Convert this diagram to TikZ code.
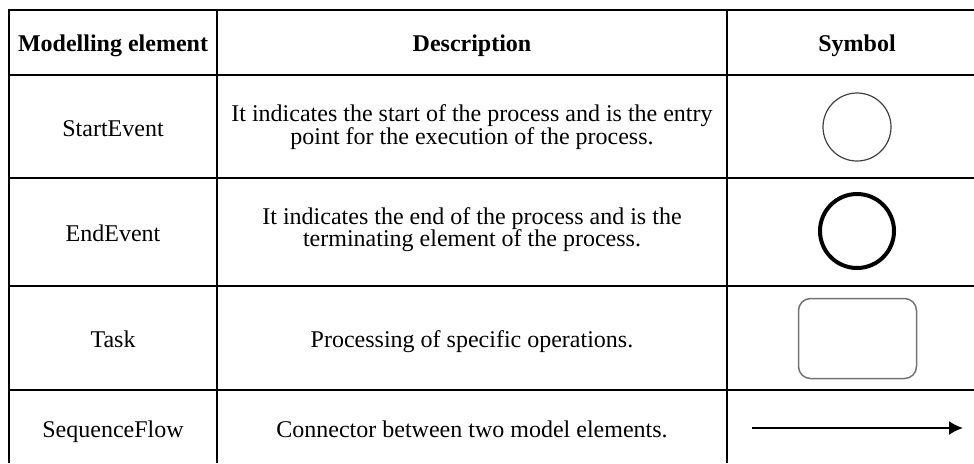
\documentclass[tikz,border=0pt]{standalone}
\usepackage{fontspec}
\setmainfont{Liberation Serif}
\usetikzlibrary{arrows.meta}

\begin{document}
\begin{tikzpicture}[x=0.5pt,y=-0.5pt,line width=1pt,>={Latex[length=7pt,width=7pt]}]
\tikzstyle{every node}=[font=\fontsize{12}{11.2}\selectfont,inner sep=0pt,align=center]
\tikzstyle{txt}=[anchor=base]
\tikzstyle{head}=[txt,font=\fontsize{12}{11.2}\selectfont\bfseries]
\tikzstyle{start}=[circle,draw=black!75,line width=0.6pt,minimum size=34pt]
\tikzstyle{stop}=[circle,draw=black,line width=2pt,minimum size=37pt]
\tikzstyle{task}=[rectangle,rounded corners=6pt,draw=black!55,line width=0.75pt,
                  minimum width=59pt,minimum height=40pt]
\tikzstyle{flow}=[->,line width=1pt]
\useasboundingbox (0,0) rectangle (974,463);

% grid
\draw (974,10) -- (9,10) -- (9,463);
\foreach \y in {75,178,286,390}
  \draw (9,\y) -- (974,\y);
\foreach \x in {217,727}
  \draw (\x,10) -- (\x,463);

% header
\node [head] (h0) at (113,51.7) {Modelling element};
\node [head] (h1) at (472,51.7) {Description};
\node [head] (h2) at (857,51.7) {Symbol};

% rows (two-line cells sit on their last baseline)
\node [txt] (m1) at (113,136) {StartEvent};
\node [txt] (d1) at (472,144) {It indicates the start of the process and is the entry\\point for the execution of the process.};
\node [start] (s1) at (857,127) {};

\node [txt] (m2) at (113,241.5) {EndEvent};
\node [txt] (d2) at (472,246.7) {It indicates the end of the process and is the\\terminating element of the process.};
\node [stop] (s2) [below of=s1,node distance=52pt] {};

\node [txt] (m3) at (113,347) {Task};
\node [txt] (d3) at (472,347) {Processing of specific operations.};
\node [task] (s3) at (857.5,338.5) {};

\node [txt] (m4) at (113,437.3) {SequenceFlow};
\node [txt] (d4) at (472,437.3) {Connector between two model elements.};
\coordinate (f0) at (752,428);
\coordinate (f1) at (963,428);
\draw [flow] (f0) -- (f1);

\end{tikzpicture}
\end{document}
